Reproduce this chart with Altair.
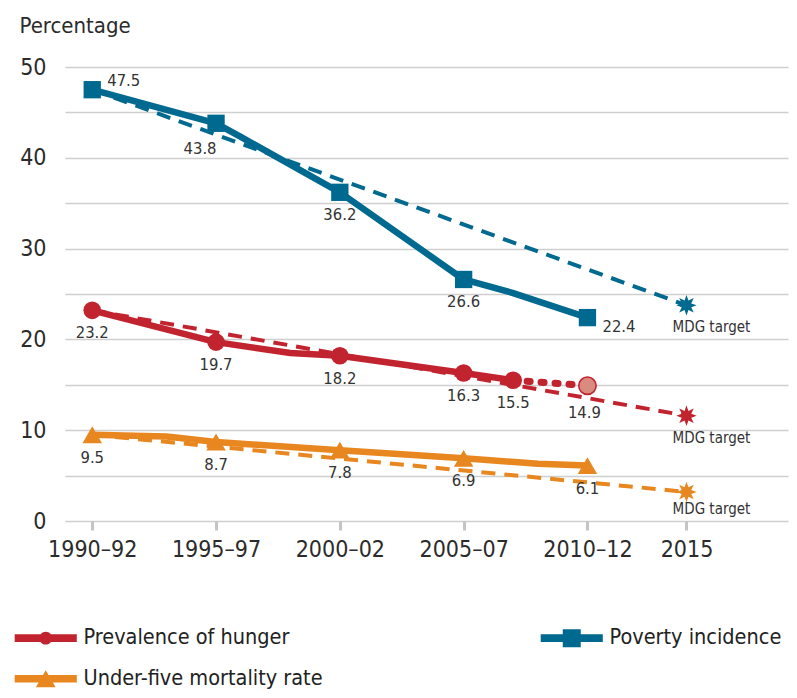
import math
import altair as alt
import pandas as pd

FONT = "'DejaVu Sans Condensed', 'Liberation Sans Narrow', 'Roboto Condensed', 'Arial Narrow', sans-serif"

# ---------------- data ----------------
series_names = ["Prevalence of hunger", "Poverty incidence", "Under-five mortality rate"]
series_colors = ["#c1232f", "#00698f", "#e8861f"]

x_tick_years = [1991, 1996, 2001, 2006, 2011, 2015]
x_tick_labels = ["1990–92", "1995–97", "2000–02", "2005–07", "2010–12", "2015"]

poverty_years = [1991, 1996, 1997, 2001, 2006, 2008, 2011]
poverty_values = [47.5, 43.8, 42.3, 36.2, 26.6, 25.1, 22.4]
poverty_marked = [1, 1, 0, 1, 1, 0, 1]

hunger_years = [1991, 1996, 1999, 2001, 2006, 2008]
hunger_values = [23.2, 19.7, 18.5, 18.2, 16.3, 15.5]
hunger_marked = [1, 1, 0, 1, 1, 1]

hunger_proj_years = [2008, 2011]
hunger_proj_values = [15.5, 14.9]

mortality_years = [1991, 1994, 1996, 2001, 2006, 2009, 2011]
mortality_values = [9.5, 9.3, 8.7, 7.8, 6.9, 6.3, 6.1]
mortality_marked = [1, 0, 1, 1, 1, 0, 1]

target_start_year = 1991
target_year = 2015
target_start_values = [23.2, 47.5, 9.5]   # hunger, poverty, mortality
target_values = [11.6, 23.75, 3.2]
target_text = "MDG target"

# ---------------- styles (label placement, shapes) ----------------
poverty_label_place = ["right_up", "below_left", "below", "below", "right_down"]
hunger_label_place = ["below"] * 5
hunger_proj_label_place = ["below_far"]
mortality_label_place = ["below"] * 5
target_label_place = ["target", "target", "target_low"]

PLACES = {
    "below": dict(dx=0, dy=23, align="center"),
    "below_far": dict(dx=-3, dy=27, align="center"),
    "below_left": dict(dx=-16, dy=26, align="center"),
    "right_up": dict(dx=15, dy=-9, align="left"),
    "right_down": dict(dx=15, dy=9, align="left"),
}

def star_path(n=8, inner=0.5):
    pts = []
    for i in range(2 * n):
        r = 1.0 if i % 2 == 0 else inner
        a = math.pi * i / n - math.pi / 2
        pts.append(f"{r*math.cos(a):.3f},{r*math.sin(a):.3f}")
    return "M" + "L".join(pts) + "Z"

LINE = "M-3.45,-0.42H3.45V0.42H-3.45Z"
legend_shapes = [
    LINE + " M-0.72,0A0.72,0.72 0 1,1 0.72,0A0.72,0.72 0 1,1 -0.72,0Z",
    LINE + " M-1,-1H1V1H-1Z",
    LINE + " M0,-0.95L1.1,0.95H-1.1Z",
]

# ---------------- tables ----------------
solid_rows = []
for name, yrs, vals, mk in [
    (series_names[1], poverty_years, poverty_values, poverty_marked),
    (series_names[0], hunger_years, hunger_values, hunger_marked),
    (series_names[2], mortality_years, mortality_values, mortality_marked),
]:
    for y, v, m in zip(yrs, vals, mk):
        solid_rows.append(dict(series=name, year=y, value=v, marked=m))
solid_df = pd.DataFrame(solid_rows)

proj_df = pd.DataFrame(dict(series=series_names[0], year=hunger_proj_years, value=hunger_proj_values))

target_rows = []
for name, v0, v1 in zip(series_names, target_start_values, target_values):
    target_rows.append(dict(series=name, year=target_start_year, value=v0))
    target_rows.append(dict(series=name, year=target_year, value=v1))
target_df = pd.DataFrame(target_rows)
star_df = target_df[target_df.year == target_year].copy()
star_df["text"] = target_text
star_df["place"] = target_label_place

label_rows = []
for name, yrs, vals, mk, places in [
    (series_names[1], poverty_years, poverty_values, poverty_marked, poverty_label_place),
    (series_names[0], hunger_years, hunger_values, hunger_marked, hunger_label_place),
    (series_names[2], mortality_years, mortality_values, mortality_marked, mortality_label_place),
]:
    pts = [(y, v) for y, v, m in zip(yrs, vals, mk) if m]
    for (y, v), p in zip(pts, places):
        label_rows.append(dict(series=name, year=y, value=v, place=p))
for y, v, p in zip(hunger_proj_years[1:], hunger_proj_values[1:], hunger_proj_label_place):
    label_rows.append(dict(series=series_names[0], year=y, value=v, place=p))
label_df = pd.DataFrame(label_rows)

# ---------------- encodings ----------------
label_expr = " : ".join(
    f"datum.value == {y} ? '{t}'" for y, t in zip(x_tick_years, x_tick_labels)
) + " : ''"

x_enc = alt.X(
    "year:Q",
    scale=alt.Scale(domain=[1989.9, 2019.1], nice=False, zero=False),
    axis=alt.Axis(
        values=x_tick_years, labelExpr=label_expr, title=None, grid=False, domain=False,
        ticks=True, tickColor="#c4c4c4", tickWidth=3, tickSize=9, labelPadding=8,
        labelFont=FONT, labelFontSize=23, labelColor="#2b2b2b", labelFlush=False,
        labelOverlap=False,
    ),
)
y_enc = alt.Y(
    "value:Q",
    scale=alt.Scale(domain=[0, 50], nice=False),
    axis=alt.Axis(
        values=list(range(0, 51, 5)), labelExpr="datum.value % 10 == 0 ? datum.label : ''",
        grid=True, gridColor="#cfcfcf", gridWidth=1.6, ticks=False, tickSize=0, domain=False,
        labelFont=FONT, labelFontSize=23, labelColor="#2b2b2b", labelPadding=19,
        title="Percentage", titleAngle=0, titleAlign="left", titleBaseline="alphabetic",
        titleX=-46, titleY=-35, titleFont=FONT, titleFontSize=22, titleFontWeight="normal",
        titleColor="#2b2b2b",
    ),
)
# legend scale (display order) and mark scale (same colours, other domain order so
# the disabled mark legends are not merged into the visible one)
color_scale = alt.Scale(domain=series_names, range=series_colors)
name_to_color = dict(zip(series_names, series_colors))
mark_domain = sorted(series_names)
mark_scale = alt.Scale(domain=mark_domain, range=[name_to_color[n] for n in mark_domain])
stroke_enc = alt.Stroke("series:N", scale=mark_scale, legend=None)
fill_enc = alt.Fill("series:N", scale=mark_scale, legend=None)

layers = []

# dashed target lines
layers.append(
    alt.Chart(target_df).mark_line(strokeWidth=4, strokeDash=[14, 9])
    .encode(x=x_enc, y=y_enc, stroke=stroke_enc, detail="series:N")
)
# solid lines
layers.append(
    alt.Chart(solid_df).mark_line(strokeWidth=6.5, strokeJoin="round")
    .encode(x=x_enc, y=y_enc, stroke=stroke_enc, detail="series:N")
)
# dotted hunger projection
layers.append(
    alt.Chart(proj_df).mark_line(strokeWidth=7, strokeDash=[3, 11], strokeCap="round")
    .encode(x=x_enc, y=y_enc, stroke=stroke_enc)
)
# markers
for name, shape, size in [
    (series_names[1], "square", 300),
    (series_names[0], "circle", 310),
    (series_names[2], "triangle-up", 380),
]:
    layers.append(
        alt.Chart(solid_df)
        .transform_filter((alt.datum.series == name) & (alt.datum.marked == 1))
        .mark_point(shape=shape, filled=True, size=size, opacity=1, strokeWidth=0)
        .encode(x=x_enc, y=y_enc, fill=fill_enc)
    )
# projected hunger marker
proj_point = proj_df.iloc[[-1]]
layers.append(
    alt.Chart(proj_point)
    .mark_point(shape="circle", filled=True, size=300, opacity=1, fill="#d98b80",
                stroke=series_colors[0], strokeWidth=1.6)
    .encode(x=x_enc, y=y_enc)
)
# target stars
layers.append(
    alt.Chart(star_df)
    .mark_point(shape=star_path(), filled=True, size=420, opacity=1, strokeWidth=0)
    .encode(x=x_enc, y=y_enc, fill=fill_enc)
)
# value labels
for place, p in PLACES.items():
    layers.append(
        alt.Chart(label_df)
        .transform_filter(alt.datum.place == place)
        .mark_text(font=FONT, fontSize=16.5, color="#333333", baseline="middle",
                   align=p["align"], dx=p["dx"], dy=p["dy"])
        .encode(x=x_enc, y=y_enc, text=alt.Text("value:Q", format=".1f"))
    )
# MDG target labels
for place, dy in [("target", 22), ("target_low", 17)]:
    layers.append(
        alt.Chart(star_df)
        .transform_filter(alt.datum.place == place)
        .mark_text(font=FONT, fontSize=15, color="#333333", baseline="middle",
                   align="center", dx=25, dy=dy)
        .encode(x=x_enc, y=y_enc, text="text:N")
    )

# legend-only layer (marks invisible, legend symbols opaque)
legend_def = dict(
    title=None, orient="none", legendX=-52, legendY=560, columns=2, direction="horizontal",
    columnPadding=216, rowPadding=18, symbolSize=324, symbolStrokeWidth=0,
    symbolOpacity=1, symbolOffset=22, labelOffset=27, labelFont=FONT, labelFontSize=21.5,
    labelColor="#222222", labelLimit=400,
)
layers.append(
    alt.Chart(star_df)
    .mark_point(filled=True, size=324, opacity=0)
    .encode(
        x=x_enc, y=y_enc,
        color=alt.Color("series:N", scale=color_scale, legend=alt.Legend(**legend_def)),
        shape=alt.Shape("series:N", scale=alt.Scale(domain=series_names, range=legend_shapes),
                        legend=alt.Legend(**legend_def)),
    )
)

chart = (
    alt.layer(*layers)
    .properties(
        width=723, height=454,
        autosize=alt.AutoSizeParams(type="none"),
        padding={"left": 57, "top": 59, "right": 1, "bottom": 169},
        background="white",
    )
    .configure_view(stroke=None)
)

chart.save("out.html", embed_options={"renderer": "svg", "actions": False})
